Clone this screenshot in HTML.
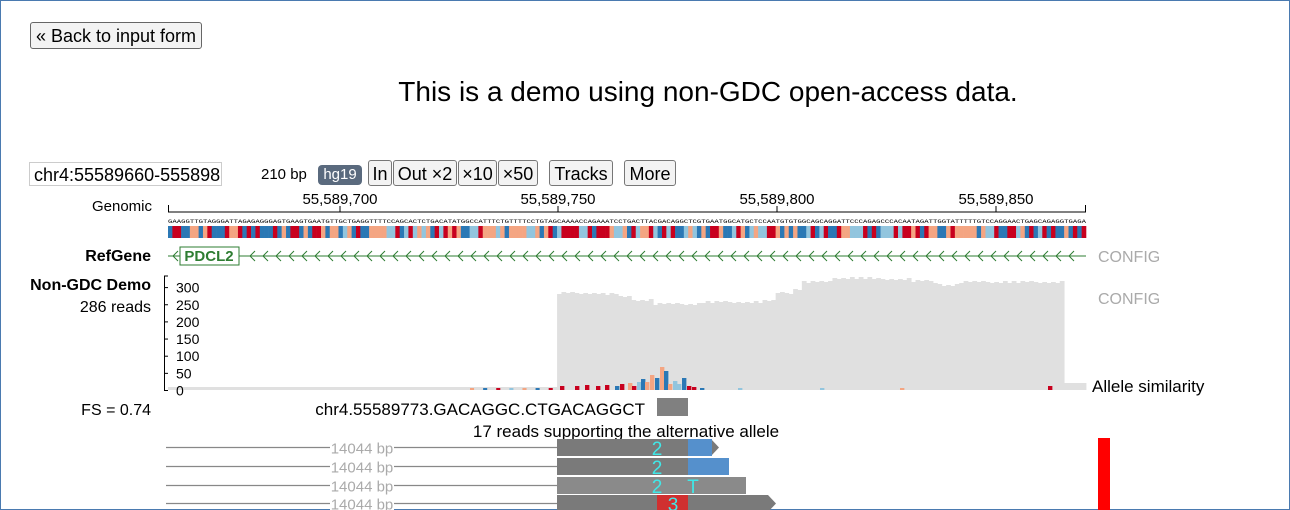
<!DOCTYPE html>
<html><head><meta charset="utf-8"><style>
body{margin:0;width:1290px;height:510px;overflow:hidden;background:#fff;font-family:"Liberation Sans",Arial,sans-serif;}
.frame{position:absolute;left:0;top:0;width:1288px;height:508px;border:1px solid #4a7ab0;}
.btn{position:absolute;top:160px;height:26px;border:1px solid #777;border-radius:3px;background:#f3f3f3;font-size:18px;line-height:26px;text-align:center;box-sizing:border-box;}
</style></head><body>
<div class="frame"></div>
<div style="position:absolute;left:30px;top:22px;width:172px;height:27px;border:1px solid #666;border-radius:3px;background:#f3f3f3;font-size:18px;line-height:26px;text-align:center;box-sizing:border-box;">« Back to input form</div>
<div style="position:absolute;left:0;width:1416px;top:76px;text-align:center;font-size:28px;">This is a demo using non-GDC open-access data.</div>
<div style="position:absolute;left:29px;top:162px;width:193px;height:24px;border:1px solid #ccc;font-size:18px;line-height:24px;padding-left:4px;box-sizing:border-box;overflow:hidden;white-space:nowrap;">chr4:55589660-55589870</div>
<div style="position:absolute;left:261px;top:166px;font-size:15px;">210 bp</div>
<div style="position:absolute;left:318px;top:165px;width:44px;height:20px;background:#5a6a7e;color:#fff;border-radius:4px;font-size:15px;line-height:20px;text-align:center;">hg19</div>
<div class="btn" style="left:368px;width:24px;">In</div>
<div class="btn" style="left:393px;width:64px;">Out ×2</div>
<div class="btn" style="left:458px;width:39px;">×10</div>
<div class="btn" style="left:498px;width:40px;">×50</div>
<div class="btn" style="left:549px;width:64px;">Tracks</div>
<div class="btn" style="left:624px;width:52px;">More</div>
<svg id="s" width="1290" height="510" style="position:absolute;left:0;top:0" font-family="Liberation Sans, Arial, sans-serif">
<text x="152" y="211" font-size="15" text-anchor="end">Genomic</text>
<line x1="168" y1="212" x2="1086" y2="212" stroke="#000"/>
<line x1="168.5" y1="205" x2="168.5" y2="212" stroke="#000"/>
<line x1="1085.5" y1="205" x2="1085.5" y2="212" stroke="#000"/>
<g font-size="15" text-anchor="middle"><text x="340" y="204">55,589,700</text><text x="558" y="204">55,589,750</text><text x="777" y="204">55,589,800</text><text x="996" y="204">55,589,850</text></g>
<g stroke="#000"><line x1="340" y1="206" x2="340" y2="212"/><line x1="558" y1="206" x2="558" y2="212"/><line x1="777" y1="206" x2="777" y2="212"/><line x1="996" y1="206" x2="996" y2="212"/></g>
<text x="168" y="223" font-size="5.3" font-family="Liberation Mono,monospace" textLength="918" lengthAdjust="spacingAndGlyphs">GAAGGTTGTAGGGATTAGAGAGGGAGTGAAGTGAATGTTGCTGAGGTTTTCCAGCACTCTGACATATGGCCATTTCTGTTTTCCTGTAGCAAAACCAGAAATCCTGACTTACGACAGGCTCGTGAATGGCATGCTCCAATGTGTGGCAGCAGGATTCCCAGAGCCCACAATAGATTGGTATTTTTGTCCAGGAACTGAGCAGAGGTGAGA</text>
<g id="seq"></g>
<text x="151" y="261" font-size="16" font-weight="bold" text-anchor="end">RefGene</text>
<line x1="168" y1="256" x2="1086" y2="256" stroke="#2e7d32"/>
<g id="chev" stroke="#2e7d32" fill="none"></g>
<rect x="180" y="247" width="59" height="18" fill="#fff" stroke="#2e7d32"/>
<text x="209" y="261" font-size="15" font-weight="bold" fill="#2e7d32" text-anchor="middle">PDCL2</text>
<text x="1098" y="262" font-size="16" fill="#aaa">CONFIG</text>
<text x="151" y="290" font-size="16" font-weight="bold" text-anchor="end">Non-GDC Demo</text>
<text x="151" y="312" font-size="16" text-anchor="end">286 reads</text>
<g id="cov"></g>
<g stroke="#000"><line x1="164.5" y1="276" x2="164.5" y2="391"/><line x1="164" y1="276" x2="168" y2="276"/><line x1="164" y1="390.5" x2="168" y2="390.5"/></g>
<g font-size="14" id="yt"></g>
<text x="1098" y="304" font-size="16" fill="#aaa">CONFIG</text>
<text x="1092" y="392" font-size="17">Allele similarity</text>
<text x="151" y="415" font-size="16" text-anchor="end">FS = 0.74</text>
<text x="645" y="415" font-size="17" text-anchor="end">chr4.55589773.GACAGGC.CTGACAGGCT</text>
<rect x="657" y="398" width="31" height="18" fill="#808080"/>
<text x="626" y="437" font-size="17" text-anchor="middle">17 reads supporting the alternative allele</text>
<g id="reads"></g>
<rect x="1098" y="438" width="12" height="72" fill="#f00"/>
</svg>
<script>
(function(){
var NS="http://www.w3.org/2000/svg";
function el(p,t,a){var e=document.createElementNS(NS,t);for(var k in a)e.setAttribute(k,a[k]);document.getElementById(p).appendChild(e);return e;}
var seq="GAAGGTTGTAGGGATTAGAGAGGGAGTGAAGTGAATGTTGCTGAGGTTTTCCAGCACTCTGACATATGGCCATTTCTGTTTTCCTGTAGCAAAACCAGAAATCCTGACTTACGACAGGCTCGTGAATGGCATGCTCCAATGTGTGGCAGCAGGATTCCCAGAGCCCACAATAGATTGGTATTTTTGTCCAGGAACTGAGCAGAGGTGAGA";
var col={A:"#c8001e",T:"#f4a582",G:"#2b78b5",C:"#92c5de"};
var w=918/210;
for(var i=0;i<210;i++){el("seq","rect",{x:168+i*w,y:226,width:w+0.3,height:12,fill:col[seq[i]||"A"]});}
for(var x=250;x<1080;x+=13){el("chev","path",{d:"M"+(x+5)+" 251 L"+x+" 256 L"+(x+5)+" 261"});}
el("chev","path",{d:"M178 251 L173 256 L178 261"});
var yt=[0,50,100,150,200,250,300];
yt.forEach(function(v){var y=390.5-v*0.343;el("yt","line",{x1:164,y1:y,x2:168,y2:y,stroke:"#000"});var t=el("yt","text",{x:176,y:y+5});t.textContent=v;});
var prof=[[556,292],[600,293],[615,296],[630,299],[650,303],[700,301],[760,300],[772,292],[790,288],[800,281],[830,277],[870,278],[910,280],[930,283],[940,284],[955,281],[1058,281]];
function topAt(x){for(var k=prof.length-1;k>=0;k--)if(x>=prof[k][0])return prof[k][1];return 387;}
for(var x=168;x<1086;x+=w){var t=(x<556)?387:(x>=1060?383:topAt(x)+((Math.floor(x)*7)%3));el("cov","rect",{x:x,y:t,width:w+0.4,height:390-t,fill:"#e0e0e0"});}
var muts=[[560,386,"#c8001e"],[575,386,"#c8001e"],[585,385,"#c8001e"],[596,386,"#c8001e"],[605,385,"#c8001e"],[615,386,"#2b78b5"],[620,384,"#c8001e"],[628,383,"#f4a582"],[632,386,"#c8001e"],[637,382,"#92c5de"],[641,379,"#2b78b5"],[645,382,"#f4a582"],[650,375,"#f4a582"],[655,378,"#2b78b5"],[660,367,"#f4a582"],[664,371,"#2b78b5"],[668,384,"#f4a582"],[673,381,"#92c5de"],[677,384,"#92c5de"],[682,378,"#2b78b5"],[687,386,"#c8001e"],[692,387,"#c8001e"],[700,388,"#2b78b5"],[738,388,"#92c5de"],[820,388,"#92c5de"],[900,388,"#f4a582"],[1048,386,"#c8001e"]];
muts.forEach(function(m){el("cov","rect",{x:m[0],y:m[1],width:w,height:390-m[1],fill:m[2]});});
for(var x=470;x<556;x+=w*3){el("cov","rect",{x:x,y:388,width:w-0.3,height:2,fill:["#c8001e","#92c5de","#f4a582","#2b78b5"][Math.floor(x)%4]});}
var rows=[[439,719,true,688,712,"#5590cc"],[458,729,false,688,729,"#5590cc"],[477,746,false,0,0,""],[495,776,true,657,688,"#d03030"]];
rows.forEach(function(r,i){var y=r[0],h=17,mid=y+h/2;
 el("reads","line",{x1:166,y1:mid,x2:557,y2:mid,stroke:"#888","stroke-width":1.3});
 el("reads","rect",{x:330,y:mid-8,width:64,height:16,fill:"#fff"});
 var t=el("reads","text",{x:362,y:mid+6,"font-size":15,fill:"#aaa","text-anchor":"middle"});t.textContent="14044 bp";
 var e=r[1];
 el("reads","path",{d:"M557 "+y+"H"+(r[2]?e-8:e)+(r[2]?"L"+e+" "+mid+"L"+(e-8)+" "+(y+h):"V"+(y+h))+"H557Z",fill:i==2?"#8a8a8a":"#7a7a7a"});
 if(r[5])el("reads","rect",{x:r[3],y:y,width:r[4]-r[3],height:h,fill:r[5]});
 var n=el("reads","text",{x:i==3?673:657,y:y+16,"font-size":19,fill:"#40e8e8","text-anchor":"middle"});n.textContent=i==3?"3":"2";
 if(i==2){var T=el("reads","text",{x:693,y:y+16,"font-size":19,fill:"#40e8e8","text-anchor":"middle"});T.textContent="T";}
});
})();
</script>
</body></html>
